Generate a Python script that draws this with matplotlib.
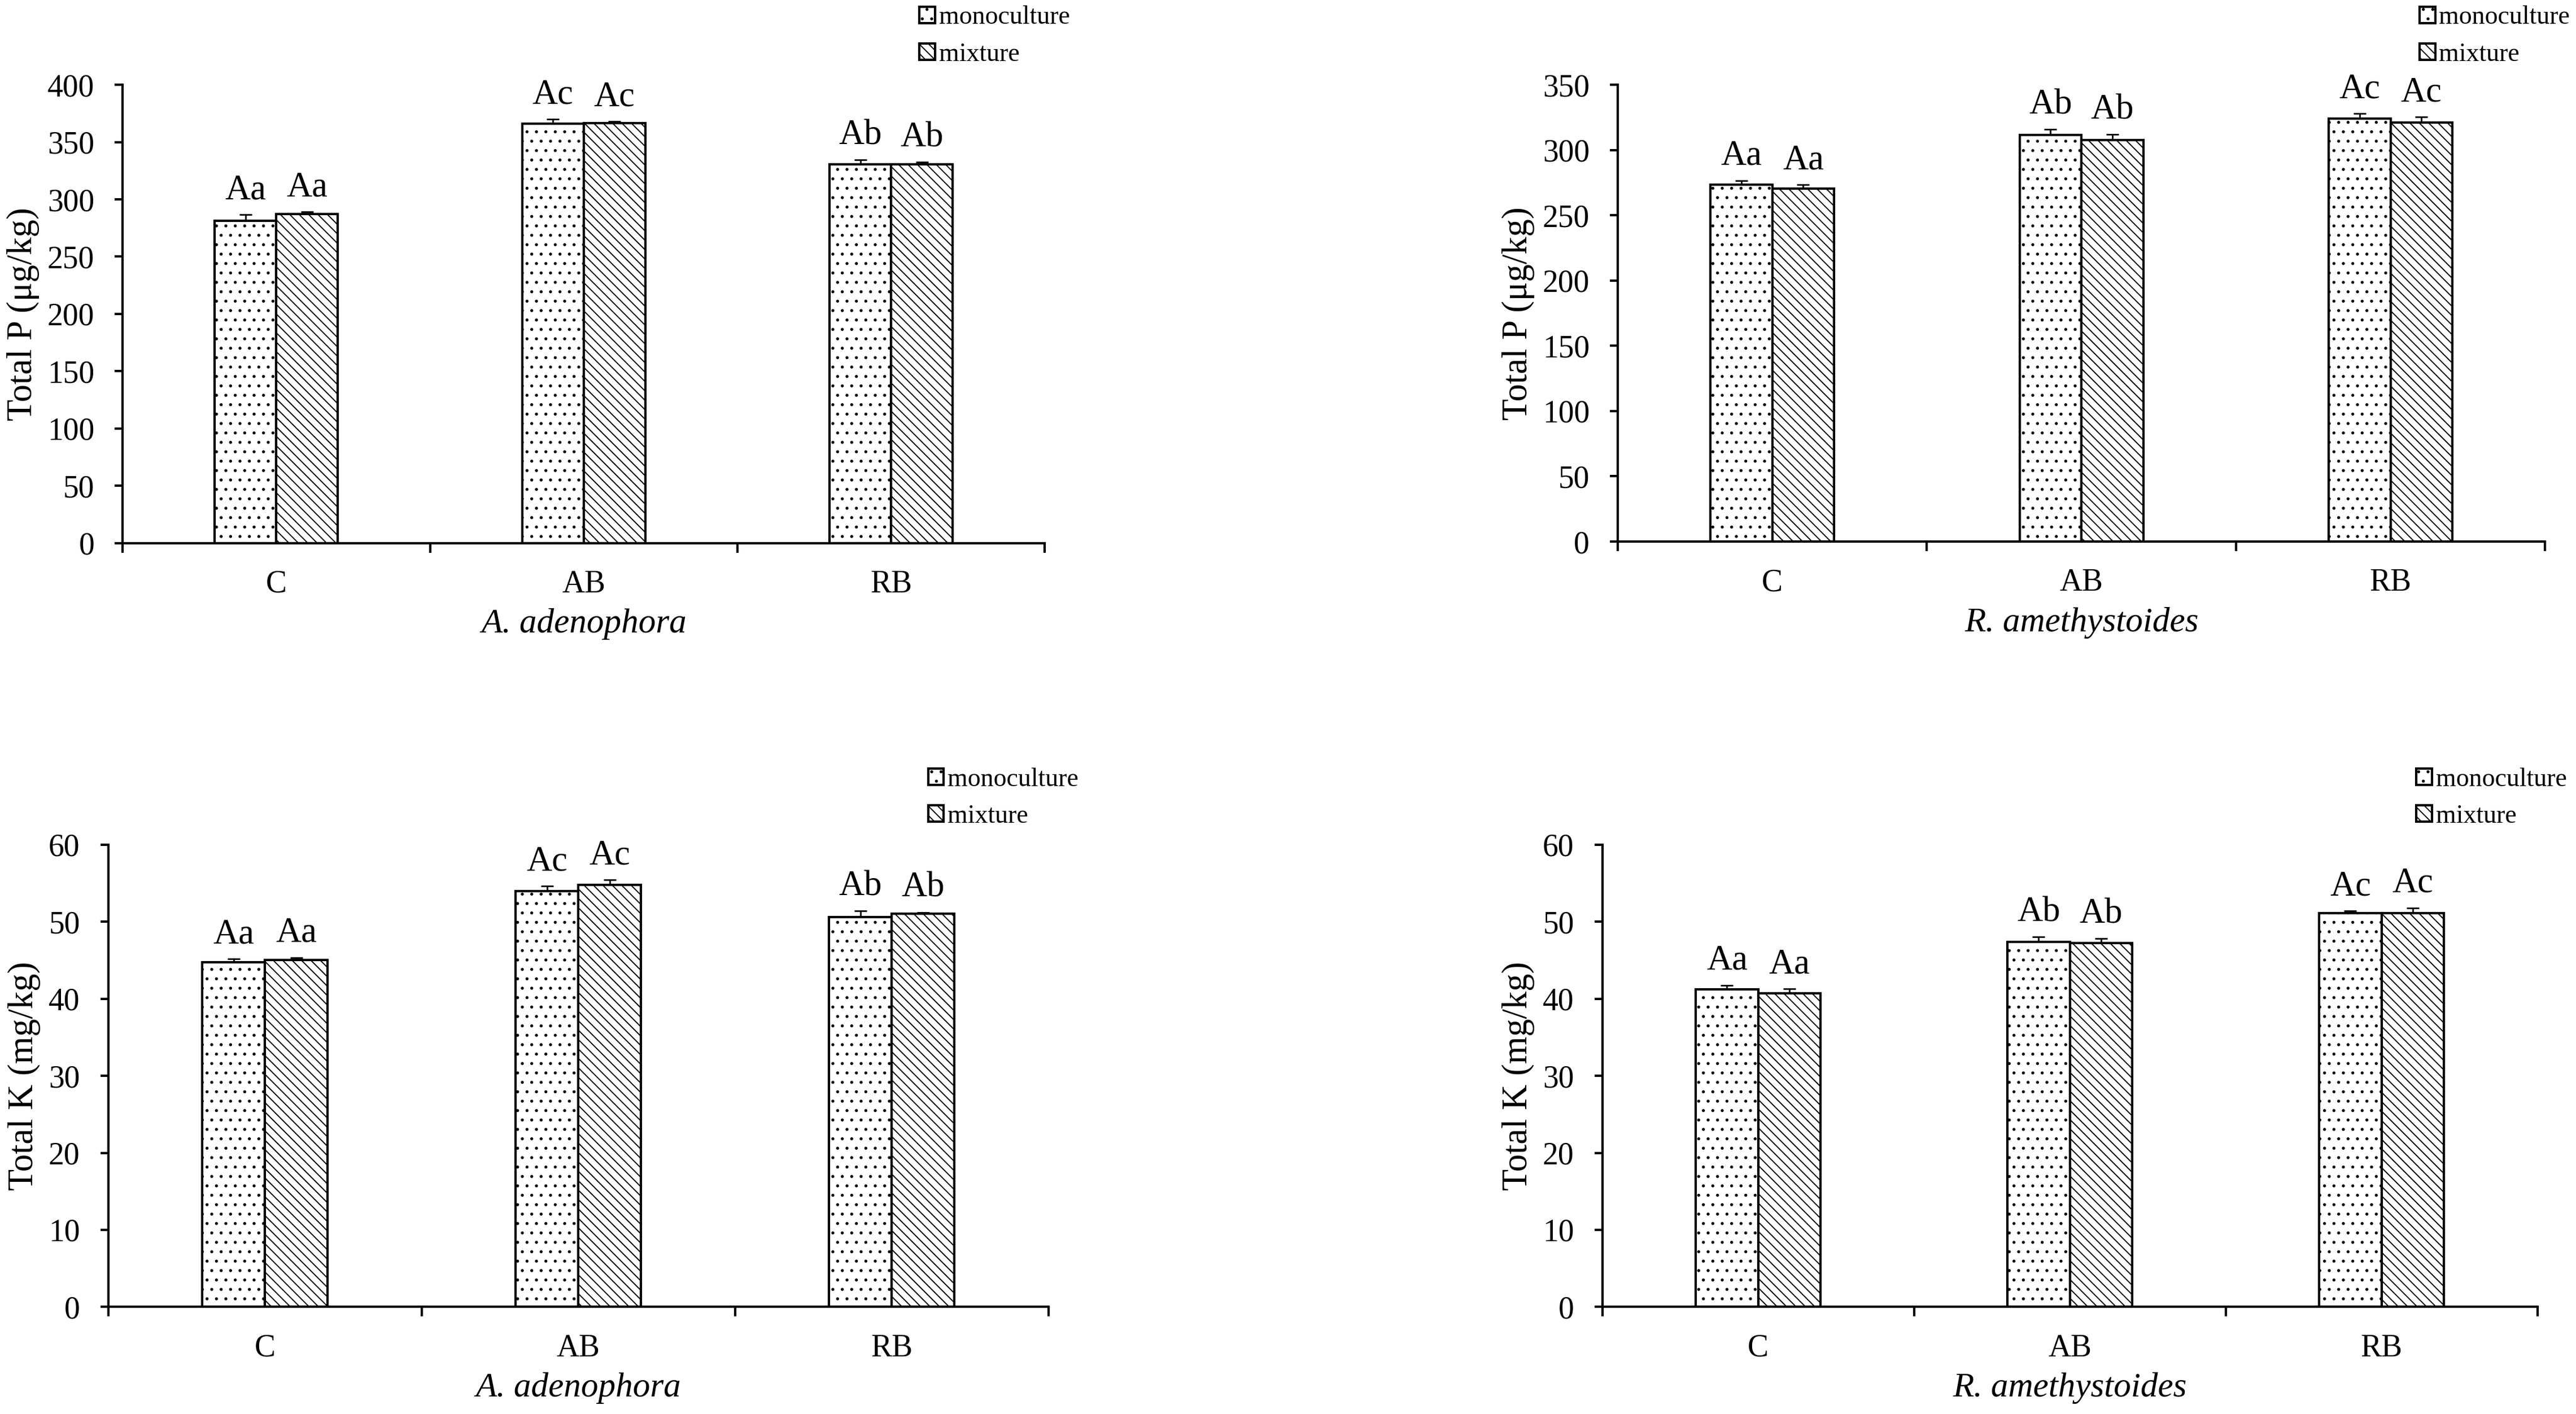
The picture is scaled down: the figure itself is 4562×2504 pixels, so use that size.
import numpy as np
import matplotlib
matplotlib.use("Agg")
import matplotlib.pyplot as plt

plt.rcParams['font.family'] = ['Liberation Serif', 'DejaVu Serif']
plt.rcParams['hatch.linewidth'] = 0.7
plt.rcParams['hatch.color'] = 'black'

groups = ['C', 'AB', 'RB']
series = ['monoculture', 'mixture']

# Total P, A. adenophora
p_aa_mono = [281.5, 366, 330.5]
p_aa_mix = [287, 366.5, 330.5]
p_aa_mono_err = [5, 4, 3.8]
p_aa_mix_err = [2, 1.5, 2]
p_aa_mono_lab = ['Aa', 'Ac', 'Ab']
p_aa_mix_lab = ['Aa', 'Ac', 'Ab']

# Total P, R. amethystoides
p_ra_mono = [273.4, 311.5, 324]
p_ra_mix = [270.3, 307.5, 321]
p_ra_mono_err = [3.3, 4.3, 4]
p_ra_mix_err = [3.3, 4.6, 4.3]
p_ra_mono_lab = ['Aa', 'Ab', 'Ac']
p_ra_mix_lab = ['Aa', 'Ab', 'Ac']

# Total K, A. adenophora
k_aa_mono = [44.7, 54.0, 50.6]
k_aa_mix = [45.0, 54.8, 51.0]
k_aa_mono_err = [0.45, 0.6, 0.8]
k_aa_mix_err = [0.35, 0.6, 0.2]
k_aa_mono_lab = ['Aa', 'Ac', 'Ab']
k_aa_mix_lab = ['Aa', 'Ac', 'Ab']

# Total K, R. amethystoides
k_ra_mono = [41.2, 47.4, 51.1]
k_ra_mix = [40.7, 47.2, 51.1]
k_ra_mono_err = [0.55, 0.6, 0.3]
k_ra_mix_err = [0.6, 0.6, 0.7]
k_ra_mono_lab = ['Aa', 'Ab', 'Ac']
k_ra_mix_lab = ['Aa', 'Ab', 'Ac']

fig = plt.figure(figsize=(22.81, 12.52), dpi=200)

panels = [
    dict(rect=[0.0476, 0.616, 0.358, 0.324], mono=p_aa_mono, mix=p_aa_mix,
         mono_err=p_aa_mono_err, mix_err=p_aa_mix_err, mono_lab=p_aa_mono_lab,
         mix_lab=p_aa_mix_lab, ylim=400, ystep=50, ylabel='Total P (\u03bcg/kg)',
         xlabel='A. adenophora', leg=(0.3569, 0.9745)),
    dict(rect=[0.628, 0.617, 0.360, 0.323], mono=p_ra_mono, mix=p_ra_mix,
         mono_err=p_ra_mono_err, mix_err=p_ra_mix_err, mono_lab=p_ra_mono_lab,
         mix_lab=p_ra_mix_lab, ylim=350, ystep=50, ylabel='Total P (\u03bcg/kg)',
         xlabel='R. amethystoides', leg=(0.9393, 0.9745)),
    dict(rect=[0.042, 0.0757, 0.365, 0.327], mono=k_aa_mono, mix=k_aa_mix,
         mono_err=k_aa_mono_err, mix_err=k_aa_mix_err, mono_lab=k_aa_mono_lab,
         mix_lab=k_aa_mix_lab, ylim=60, ystep=10, ylabel='Total K (mg/kg)',
         xlabel='A. adenophora', leg=(0.3603, 0.4357)),
    dict(rect=[0.622, 0.0757, 0.363, 0.327], mono=k_ra_mono, mix=k_ra_mix,
         mono_err=k_ra_mono_err, mix_err=k_ra_mix_err, mono_lab=k_ra_mono_lab,
         mix_lab=k_ra_mix_lab, ylim=60, ystep=10, ylabel='Total K (mg/kg)',
         xlabel='R. amethystoides', leg=(0.938, 0.4357)),
]

x = np.arange(len(groups))
w = 0.2

for p in panels:
    ax = fig.add_axes(p['rect'])
    b1 = ax.bar(x - w / 2, p['mono'], w, color='white', edgecolor='black',
                linewidth=1.5, hatch='..', label=series[0], zorder=2)
    b2 = ax.bar(x + w / 2, p['mix'], w, color='white', edgecolor='black',
                linewidth=1.5, hatch='\\\\\\\\', label=series[1], zorder=2)
    for xs, vals, errs, labs in [(x - w / 2, p['mono'], p['mono_err'], p['mono_lab']),
                                 (x + w / 2, p['mix'], p['mix_err'], p['mix_lab'])]:
        ax.errorbar(xs, vals, yerr=[np.zeros(len(vals)), errs], fmt='none',
                    ecolor='black', elinewidth=1, capsize=4, capthick=1, zorder=3)
        for xi, v, e, t in zip(xs, vals, errs, labs):
            ax.annotate(t, (xi, v + e), xytext=(0, 10), textcoords='offset points',
                        ha='center', va='baseline', fontsize=22.5)

    ax.set_xlim(-0.5, 2.5)
    ax.set_ylim(0, p['ylim'])
    ax.set_yticks(np.arange(0, p['ylim'] + 1, p['ystep']))
    ax.set_xticks([-0.5, 0.5, 1.5, 2.5])
    ax.set_xticklabels([])
    ax.set_xticks(x, minor=True)
    ax.set_xticklabels(groups, minor=True)
    ax.tick_params(axis='x', which='major', direction='out', length=6, width=1.5)
    ax.tick_params(axis='x', which='minor', length=0, pad=17, labelsize=20)
    ax.tick_params(axis='y', direction='out', length=5, width=1.5, pad=13, labelsize=20)
    for s in ['top', 'right']:
        ax.spines[s].set_visible(False)
    for s in ['left', 'bottom']:
        ax.spines[s].set_linewidth(1.5)
    ax.set_ylabel(p['ylabel'], fontsize=22.5, labelpad=5)
    ax.set_xlabel(p['xlabel'], fontsize=22, style='italic', labelpad=6)

    ax.legend(handles=[b1, b2], labels=series, loc='center left',
              bbox_to_anchor=p['leg'], bbox_transform=fig.transFigure,
              frameon=False, borderpad=0, borderaxespad=0, fontsize=16.5,
              handlelength=0.6, handleheight=0.6, handletextpad=0.15,
              labelspacing=0.5)

fig.savefig('out.png', dpi=200, facecolor='white')
